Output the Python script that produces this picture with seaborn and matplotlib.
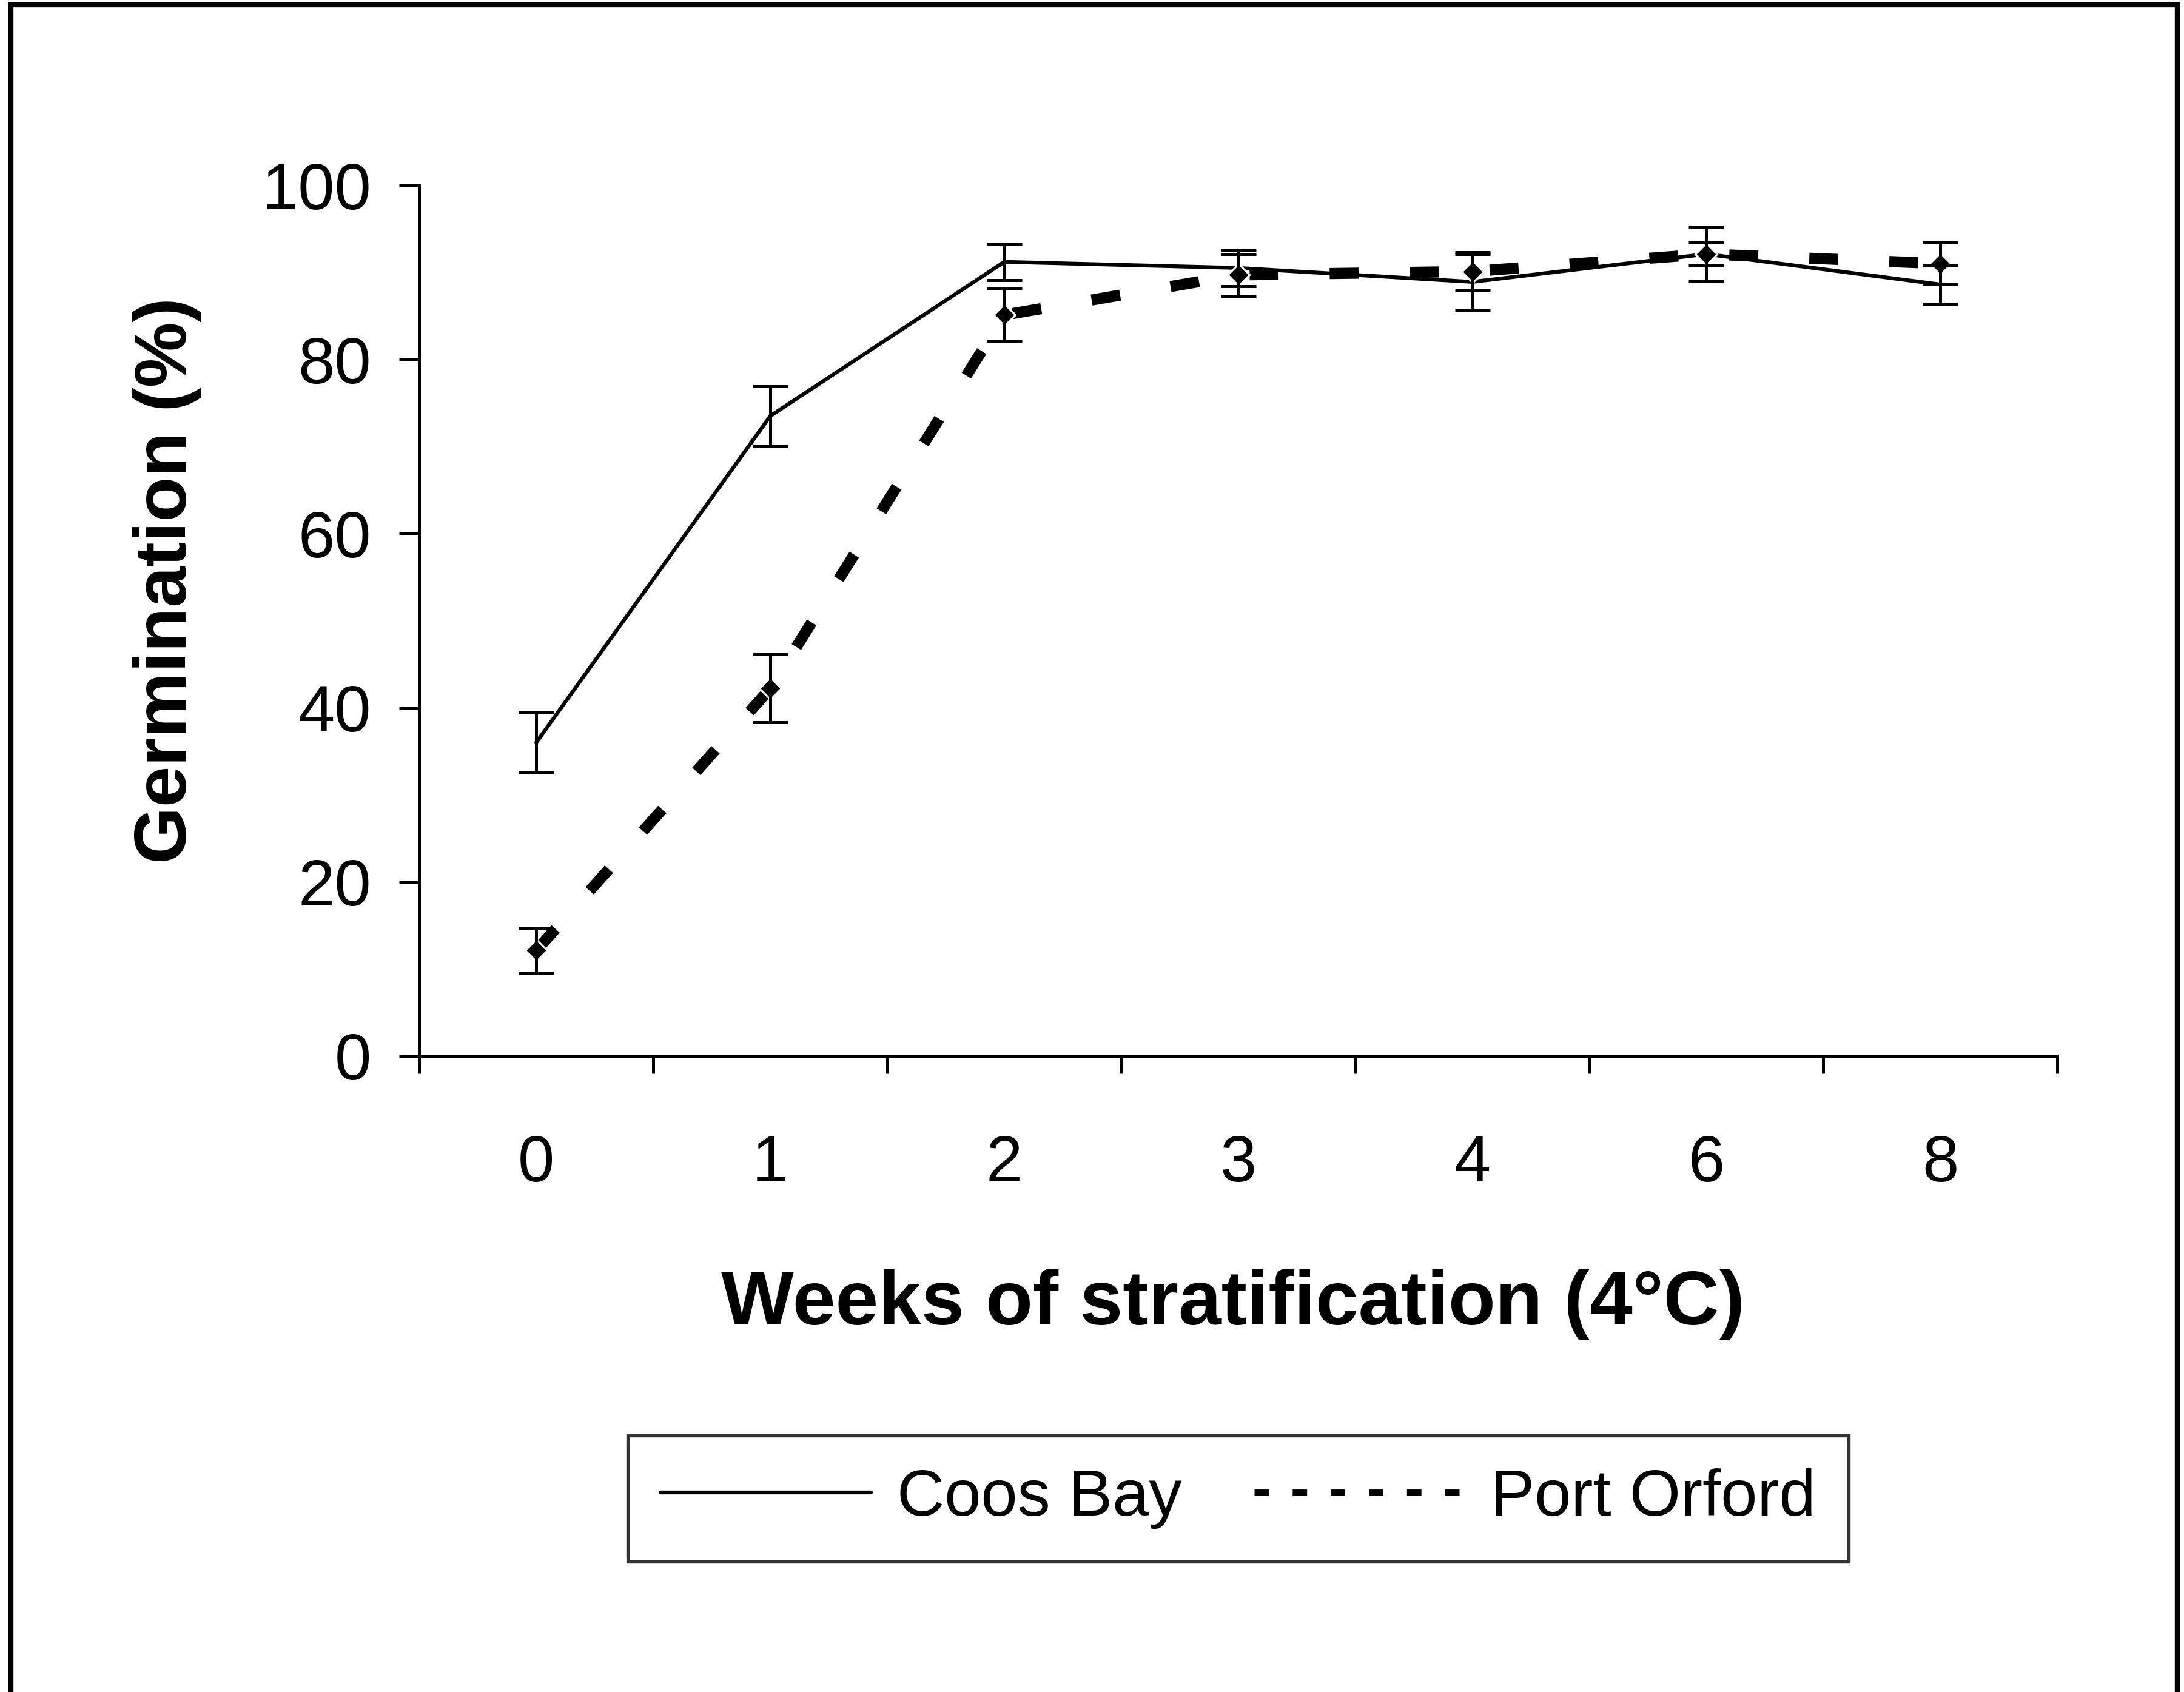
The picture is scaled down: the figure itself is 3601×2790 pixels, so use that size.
import numpy as np
import pandas as pd
import seaborn as sns
import matplotlib.pyplot as plt
from matplotlib.lines import Line2D
from matplotlib.patches import Rectangle

weeks = ['0', '1', '2', '3', '4', '6', '8']
coos_bay = [36.0, 73.5, 91.2, 90.5, 88.9, 92.1, 88.6]
coos_bay_err = [3.5, 3.4, 2.1, 2.1, 3.2, 3.1, 2.2]
port_orford = [12.1, 42.2, 85.1, 89.7, 90.1, 92.1, 91.0]
port_orford_err = [2.6, 3.9, 3.0, 2.4, 2.2, 1.3, 2.4]


def make_frame():
    rows = []
    for w, a, b in zip(weeks, coos_bay, port_orford):
        rows.append({'week': w, 'site': 'Coos Bay', 'germ': a})
        rows.append({'week': w, 'site': 'Port Orford', 'germ': b})
    return pd.DataFrame(rows)


sns.set_style('ticks', {'axes.edgecolor': 'black', 'text.color': 'black',
                        'xtick.color': 'black', 'ytick.color': 'black',
                        'axes.labelcolor': 'black'})
plt.rcParams['font.family'] = ['Liberation Sans', 'DejaVu Sans']

fig = plt.figure(figsize=(3601 / 300, 2790 / 300), dpi=300)
ax = fig.add_axes([0.192, 0.376, 0.750, 0.5145])

df = make_frame()
sns.lineplot(data=df, x='week', y='germ', hue='site', style='site',
             palette=['black', 'black'], sort=False,
             dashes={'Coos Bay': '', 'Port Orford': (2.6, 4.6)},
             markers={'Coos Bay': 'D', 'Port Orford': 'D'},
             markersize=6, legend=False, ax=ax)

# line widths: thin solid, heavy dashes
lines = ax.get_lines()
lines[0].set_linewidth(1.5)
lines[0].set_marker('')
lines[1].set_linewidth(4.4)

ax.errorbar(weeks, coos_bay, yerr=coos_bay_err, fmt='none', ecolor='black',
            elinewidth=1.2, capsize=7, capthick=1.2)
ax.errorbar(weeks, port_orford, yerr=port_orford_err, fmt='none', ecolor='black',
            elinewidth=1.2, capsize=7, capthick=1.2)

ax.set_xlim(-0.5, 6.5)
ax.set_ylim(0, 100)
ax.set_yticks(np.arange(0, 101, 20))
ax.set_xticks(range(len(weeks)))
ax.set_xticklabels(weeks)
ax.set_xticks(np.arange(-0.5, 7, 1), minor=True)
ax.tick_params(axis='x', which='major', length=0, pad=31, labelsize=26)
ax.tick_params(axis='x', which='minor', length=7, width=1.2, direction='out')
ax.tick_params(axis='y', length=8, width=1.2, pad=11, labelsize=26)
sns.despine(ax=ax)
for s in ['left', 'bottom']:
    ax.spines[s].set_linewidth(1.2)

ax.set_xlabel('')
ax.set_ylabel('')
fig.text(0.5645, 0.229, 'Weeks of stratification (4\u00b0C)', fontsize=30.5,
         fontweight='bold', ha='center', va='center')
fig.text(0.0765, 0.657, 'Germination (%)', fontsize=29, fontweight='bold',
         ha='center', va='center', rotation=90)

handles = [Line2D([], [], color='black', lw=1.5),
           Line2D([], [], color='black', lw=2.6, dashes=(2.2, 3.6))]
leg = fig.legend(handles, ['Coos Bay', 'Port Orford'], ncol=2,
                 loc='center', bbox_to_anchor=(0.567, 0.1144),
                 fontsize=26, frameon=True, fancybox=False,
                 handlelength=3.2, handletextpad=0.4, columnspacing=1.1,
                 borderpad=0.5, edgecolor='black')
leg.get_frame().set_linewidth(1.3)

# outer frame around the whole figure
fig.patches.append(Rectangle((0.005, -0.01), 0.992, 1.007,
                             transform=fig.transFigure, fill=False,
                             edgecolor='black', linewidth=2.0))

fig.savefig('out.png', dpi=300)
